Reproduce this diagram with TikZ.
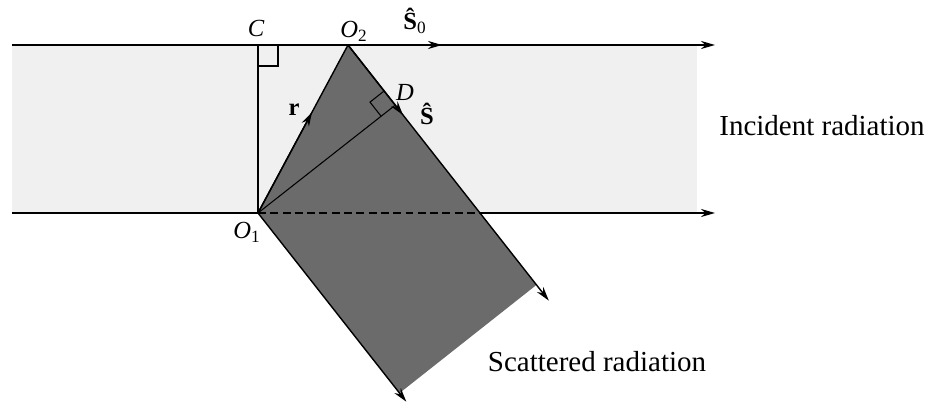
\documentclass[tikz,border=0pt]{standalone}
\usepackage{fontspec}
\setmainfont{Liberation Serif}
\usetikzlibrary{arrows.meta,calc,positioning}

\begin{document}
\begin{tikzpicture}[
    >={Stealth[length=8pt,width=4.6pt]},
    x=0.02cm,
    y=-0.02cm,
    ray/.style={line width=0.8pt},
    thinray/.style={line width=0.6pt},
    lbl/.style={font=\fontsize{14}{16}\selectfont\itshape, inner sep=0pt},
    vec/.style={font=\fontsize{14}{16}\selectfont\bfseries, inner sep=0pt},
    caption/.style={font=\fontsize{16.5}{19}\selectfont, inner sep=0pt}
]

\useasboundingbox (0,0) rectangle (926,404);

% Punkty
\coordinate (O1) at (258,213);
\coordinate (O2) at (348,45);
\coordinate (C) at (258,45);
\coordinate (Lt) at (12,45);
\coordinate (Rt) at (715,45);
\coordinate (Lb) at (12,213);
\coordinate (Rb) at (715,213);
\coordinate (E) at (480,213);
\coordinate (R) at (536.5,284.9);
\coordinate (B) at (399.5,393.1);
\coordinate (Rtip) at (548.8,300.6);
\coordinate (Btip) at (406.3,401.7);
\coordinate (S0tip) at (442,45);
\coordinate (D) at ($(O2)!(O1)!(R)$);
\coordinate (Da) at ($(D)!0.36cm!(O2)$);
\coordinate (Db) at ($(D)!0.36cm!(O1)$);

% Wiazka padajaca
\fill[black!6]
    (12,45)
    rectangle
    (697,213);

% Wiazka rozproszona
\fill[black!58]
    (O2) -- (R) -- (B) -- (O1) -- cycle;

% Linie poziome
\draw[ray,->]
    (Lt) -- (Rt);
\draw[ray,->]
    (O2) -- (S0tip);
\draw[ray]
    (Lb) -- (O1);
\draw[ray,dash pattern=on 4.5pt off 2.5pt]
    (O1) -- (E);
\draw[ray,->]
    (E) -- (Rb);

% Linie ukosne
\draw[ray,->]
    (O2) -- (Rtip);
\draw[ray,->]
    (O2) -- ($(O2)!0.274!(Rtip)$);
\draw[ray,->]
    (O1) -- (Btip);
\draw[ray]
    (O1) -- (O2);
\draw[ray,->]
    (O1) -- ($(O1)!0.6!(O2)$);
\draw[thinray]
    (O1) -- (D);
\draw[thinray]
    (C) -- (O1);

% Katy proste
\draw[thinray]
    ($(C)+(20,0)$) |- ($(C)+(0,21)$);
\draw[thinray]
    (Da) -- ($(Da)+(Db)-(D)$) -- (Db);

% Opisy
\node[lbl] (Cl) at (256,28) {C};
\node[lbl] (O2l) at (354,31) {O\textsubscript{\upshape 2}};
\node[lbl] (O1l) at (247,232) {O\textsubscript{\upshape 1}};
\node[lbl] (Dl) at (405,92) {D};
\node[vec] (S0l) at (415,21) {Ŝ\textsubscript{\mdseries 0}};
\node[vec] (Sl) at (427,114) {Ŝ};
\node[vec] (rl) at (294,110) {r};

\node[caption] (inc) at (822,126) {Incident radiation};
\node[caption] (sca) at (597,362) {Scattered radiation};

\end{tikzpicture}
\end{document}
